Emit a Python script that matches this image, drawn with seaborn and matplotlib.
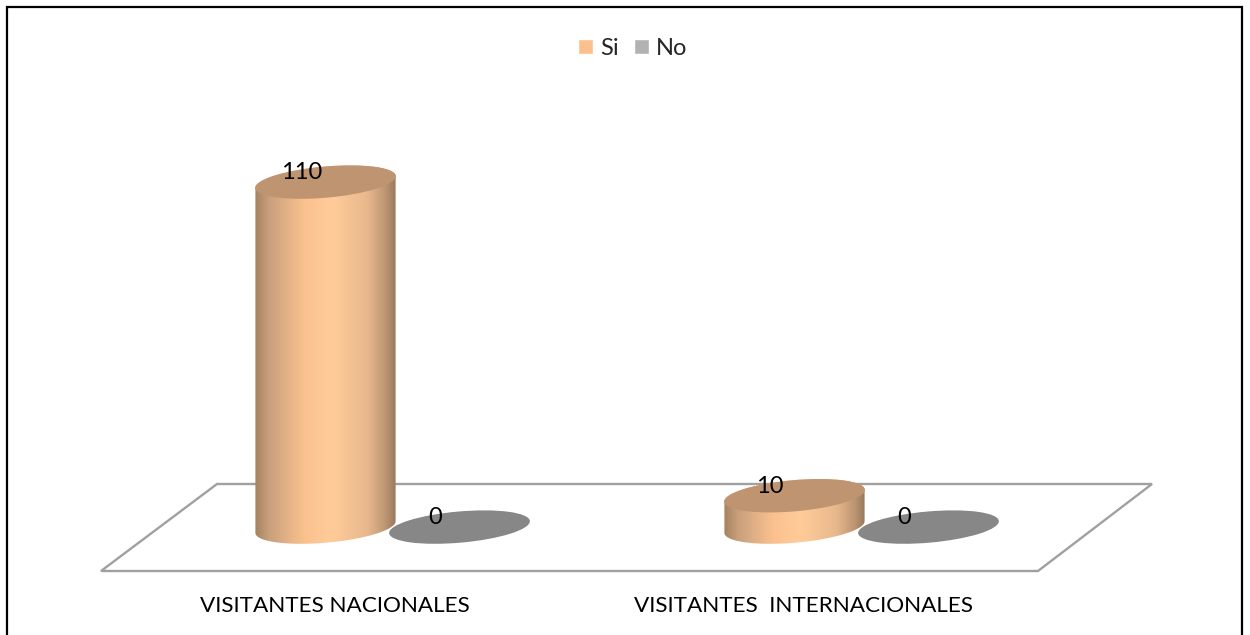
#!/usr/bin/env python3
"""Visitantes nacionales / internacionales - cylinder style bar chart"""

import numpy as np
import pandas as pd
import matplotlib
matplotlib.use('Agg')
import matplotlib.pyplot as plt
import seaborn as sns
from matplotlib.colors import LinearSegmentedColormap
from matplotlib.patches import Ellipse, Polygon, Rectangle
from matplotlib.path import Path
from matplotlib.transforms import IdentityTransform, ScaledTranslation

# Data
categories = ['VISITANTES NACIONALES', 'VISITANTES  INTERNACIONALES']
series_names = ['Si', 'No']
si_values = [110, 10]
no_values = [0, 0]

# Colours
legend_colors = ['#FDBF8C', '#B2B2B2']
top_color = '#BF9470'
flat_color = '#878787'
floor_color = '#A0A0A0'
body_cmap = LinearSegmentedColormap.from_list('body', [
    (0.00, '#A5825F'), (0.10, '#C9A07C'), (0.35, '#FBC18F'),
    (0.55, '#FFCC99'), (0.80, '#E8B88D'), (0.93, '#BC9572'), (1.00, '#98785C'),
])

sns.set_style('white')
plt.rcParams['font.family'] = ['Lato', 'DejaVu Sans']
FONT = 16.2
LABEL_FONT = 17

df = pd.DataFrame({
    'category': categories * 2,
    'serie': [series_names[0]] * 2 + [series_names[1]] * 2,
    'value': si_values + no_values,
})

fig = plt.figure(figsize=(12.5, 6.35), dpi=100)
# axes spans the floor horizontally, its bottom sits on the floor's front edge
ax = fig.add_axes([101 / 1250, (635 - 571) / 635, 1051 / 1250, 541 / 635])

sns.barplot(data=df, x='category', y='value', hue='serie', hue_order=series_names,
            palette=legend_colors, width=0.5714, gap=-0.05, saturation=1, ax=ax)

ax.set_xlim((101 - 392.5) / 469, (1152 - 392.5) / 469)
ax.set_ylim(-14, 158.5)
sns.despine(ax=ax, left=True, bottom=True)
ax.set_xlabel('')
ax.set_ylabel('')
ax.set_yticks([])
ax.tick_params(axis='x', length=0, pad=18, labelsize=FONT, labelcolor='black')

# labels sit left of the group centre, as in the 3D projection
shift = ScaledTranslation(-58 / 100, 0, fig.dpi_scale_trans)
for lab in ax.get_xticklabels():
    lab.set_transform(lab.get_transform() + shift)

# floor
floor = Polygon([(0, 0), (937 / 1051, 0), (1, 87 / 541), (116 / 1051, 87 / 541)],
                closed=True, transform=ax.transAxes, fill=False,
                edgecolor=floor_color, linewidth=1.7, zorder=1, clip_on=False)
ax.add_patch(floor)

# tilted ellipse, in pixels
TILT = np.deg2rad(5)
MINOR = 15.6


def ellipse_arc(cx, cy, a, start):
    t0 = np.arctan2(-MINOR * np.sin(TILT), a * np.cos(TILT))
    t = np.linspace(t0 + start, t0 + start + np.pi, 60)
    x = a * np.cos(t) * np.cos(TILT) - MINOR * np.sin(t) * np.sin(TILT)
    y = a * np.cos(t) * np.sin(TILT) + MINOR * np.sin(t) * np.cos(TILT)
    return np.column_stack([cx + x, cy + y])


fig.canvas.draw()
gradient = np.linspace(0, 1, 256).reshape(1, -1)
for container, name, base_z in zip(ax.containers, series_names, [4, 3]):
    for bar in container:
        bar.set_visible(False)
        mid = bar.get_x() + bar.get_width() / 2
        value = bar.get_height()
        x0, y0 = ax.transData.transform((mid, 0))
        x1, y1 = ax.transData.transform((mid, value))
        left, _ = ax.transData.transform((bar.get_x(), 0))
        a = x0 - left

        if value > 0:
            outline = np.vstack([ellipse_arc(x0, y0, a, np.pi), ellipse_arc(x1, y1, a, 0)])
            clip = Path(np.vstack([outline, outline[:1]]), closed=True)
            im = ax.imshow(gradient, cmap=body_cmap, aspect='auto', zorder=base_z,
                           extent=(bar.get_x(), bar.get_x() + bar.get_width(), -10, value + 10))
            im.set_clip_path(clip, IdentityTransform())
            cap = top_color
        else:
            cap = flat_color
        ax.add_patch(Ellipse((x1, y1), 2 * a * 1.004, 2 * MINOR, angle=np.rad2deg(TILT),
                             transform=IdentityTransform(), facecolor=cap,
                             edgecolor='none', zorder=base_z + 0.5))

        ax.annotate(f'{value:.0f}', (mid, value), xytext=(-17.5, 7), textcoords='offset points',
                    ha='center', va='center', fontsize=LABEL_FONT, color='black', zorder=8)

# imshow resets the limits
ax.set_xlim((101 - 392.5) / 469, (1152 - 392.5) / 469)
ax.set_ylim(-14, 158.5)
ax.patch.set_alpha(0)

sns.move_legend(ax, 'center', bbox_to_anchor=((633 - 101) / 1051, (571 - 48.5) / 541),
                ncol=2, title=None, frameon=False, fontsize=LABEL_FONT, handlelength=0.63,
                handleheight=0.63, handletextpad=0.3, columnspacing=0.66, borderpad=0)

# outer frame, bottom edge runs off the picture
fig.add_artist(Rectangle((7, -10), 1235, 628 + 10, transform=IdentityTransform(),
                         fill=False, edgecolor='black', linewidth=1.6))

fig.savefig('out.png', dpi=100)
